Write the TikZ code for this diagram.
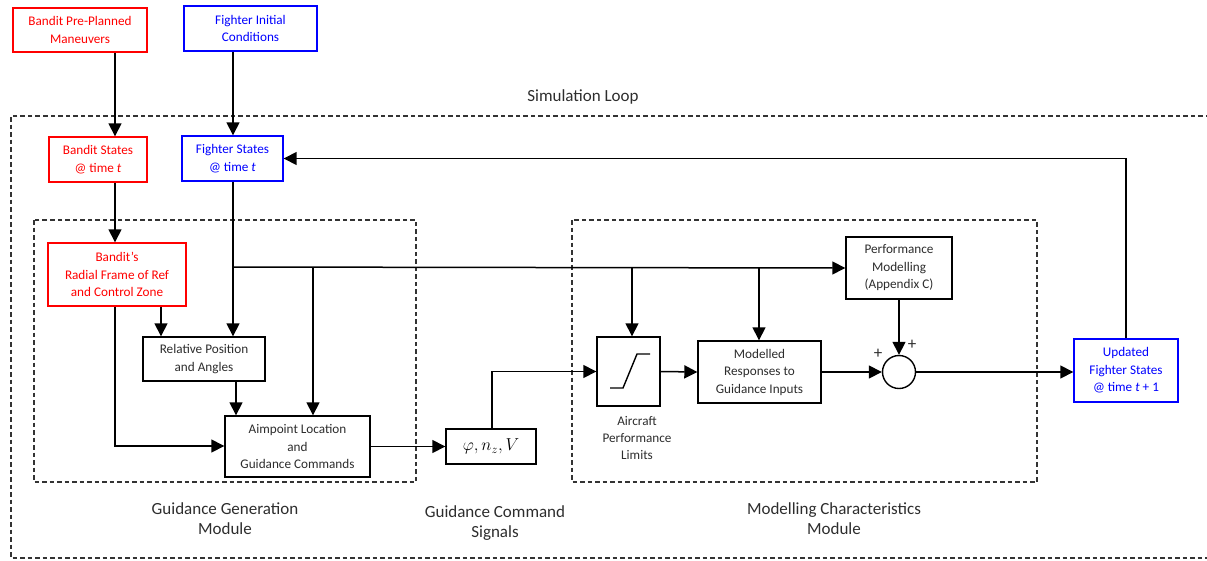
\documentclass[tikz,border=0pt]{standalone}
\usepackage{fontspec}
\setmainfont{Carlito}
\usetikzlibrary{arrows.meta,positioning}

\definecolor{bred}{RGB}{255,0,0}
\definecolor{fblue}{RGB}{0,0,255}
\definecolor{txt}{RGB}{45,45,45}

\tikzset{
  blk/.style={draw=black, line width=1.4pt, fill=white, align=center, inner sep=0pt,
              text=txt, font=\fontsize{13.2}{17.5}\selectfont},
  redblk/.style={blk, draw=bred, text=bred},
  blueblk/.style={blk, draw=fblue, text=fblue},
  arr/.style={line width=1.5pt, -{Triangle[length=13pt,width=13pt]}},
  region/.style={draw=black!80, line width=1.1pt, dash pattern=on 4.5pt off 3pt},
  caption/.style={align=center, text=txt, font=\fontsize{17}{20}\selectfont},
  small/.style={align=center, text=txt, font=\fontsize{13.2}{17}\selectfont},
}

\begin{document}
\begin{tikzpicture}[x=1pt,y=-1pt]
  \useasboundingbox (0,0) rectangle (1207,560);

  % simulation loop frame (open to the right)
  \draw[region] (1210,116) -- (11,116) -- (11,558) -- (1210,558);
  \node[caption] (simlbl) at (583,97) {Simulation Loop};

  % module frames
  \draw[region] (34,220) rectangle (416,482);
  \draw[region] (572,220) rectangle (1037,482);

  % inputs
  \node[redblk, minimum width=134pt, minimum height=44pt] (bpp) at (80,30)
    {Bandit Pre-Planned\\Maneuvers};
  \node[blueblk, minimum width=133pt, minimum height=45pt] (fic) at (250.5,28.5)
    {Fighter Initial\\Conditions};

  % states
  \node[redblk, minimum width=98pt, minimum height=45pt] (bst) at (98,159.5)
    {Bandit States\\@ time \textit{t}};
  \node[blueblk, minimum width=101pt, minimum height=45pt] (fst) at (232.5,158.5)
    {Fighter States\\@ time \textit{t}};

  % guidance generation module
  \node[redblk, minimum width=138pt, minimum height=63pt] (rad) at (117,274.5)
    {Bandit's\\Radial Frame of Ref\\and Control Zone};
  \node[blk, minimum width=122pt, minimum height=44pt] (rel) at (204,359)
    {Relative Position\\and Angles};
  \node[blk, minimum width=145pt, minimum height=61pt] (aim) at (297.5,446.5)
    {Aimpoint Location\\and\\Guidance Commands};

  % command signals
  \node[blk, minimum width=90pt, minimum height=35pt, font=\fontsize{17}{18}\selectfont, text=black]
    (phi) at (491,446.5) {$\varphi, n_z, V$};

  % modelling characteristics module
  \node[blk, minimum width=63pt, minimum height=69pt] (sat) at (628.5,371.5) {};
  \draw[line width=1.4pt] (610,388) -- (623,388) -- (637,354) -- (650,354);
  \node[blk, minimum width=123pt, minimum height=62pt] (mod) at (759.5,372)
    {Modelled\\Responses to\\Guidance Inputs};
  \node[blk, minimum width=106pt, minimum height=62pt] (perf) at (899,268)
    {Performance\\Modelling\\(Appendix C)};
  \node[draw, circle, line width=1.4pt, minimum size=33pt, inner sep=0pt, fill=white] (sum) at (899,372) {};
  \node[small, font=\fontsize{17}{17}\selectfont] (plusl) at (878,354) {+};
  \node[small, font=\fontsize{17}{17}\selectfont] (plusr) at (912,345) {+};

  % output
  \node[blueblk, minimum width=104pt, minimum height=63pt] (upd) at (1126,370.5)
    {Updated\\Fighter States\\@ time \textit{t} + 1};

  % captions
  \node[small] (apl) at (637,438) {Aircraft\\Performance\\Limits};
  \node[caption] (ggm) at (225,519) {Guidance Generation\\Module};
  \node[caption] (gcs) at (495,523) {Guidance Command\\Signals};
  \node[caption] (mcm) at (834,519) {Modelling Characteristics\\Module};

  % routing x positions
  \coordinate (xb) at (115,0);
  \coordinate (xf) at (233,0);
  \coordinate (xr) at (161,0);
  \coordinate (xp) at (236,0);
  \coordinate (xa) at (313,0);
  \coordinate (xs) at (632,0);
  \coordinate (xm) at (759,0);
  \coordinate (xc) at (492,0);
  \coordinate (yb) at (0,446);
  \coordinate (J) at (233,267);

  % connectors
  \draw[arr] (bpp.south -| xb) -- (bst.north -| xb);
  \draw[arr] (fic.south -| xf) -- (fst.north -| xf);
  \draw[arr] (bst.south -| xb) -- (rad.north -| xb);
  \draw[arr] (rad.south -| xr) -- (rel.north -| xr);
  \draw[arr] (fst.south -| xf) -- (rel.north -| xf);
  \draw[arr] (J) -- (perf.west);
  \draw[arr] (J -| xa) -- (aim.north -| xa);
  \draw[arr] (J -| xs) -- (sat.north -| xs);
  \draw[arr] (J -| xm) -- (mod.north -| xm);
  \draw[arr] (rel.south -| xp) -- (aim.north -| xp);
  \draw[arr] (rad.south -| xb) -- (yb -| xb) -- (aim.west |- yb);
  \draw[arr] (aim.east) -- (phi.west);
  \draw[arr] (phi.north -| xc) |- (sat.west);
  \draw[arr] (sat.east) -- (mod.west);
  \draw[arr] (mod.east) -- (sum.west);
  \draw[arr] (perf.south) -- (sum.north);
  \draw[arr] (sum.east) -- (sum.east -| upd.west);
  \draw[arr] (upd.north) |- (fst.east);
\end{tikzpicture}
\end{document}
